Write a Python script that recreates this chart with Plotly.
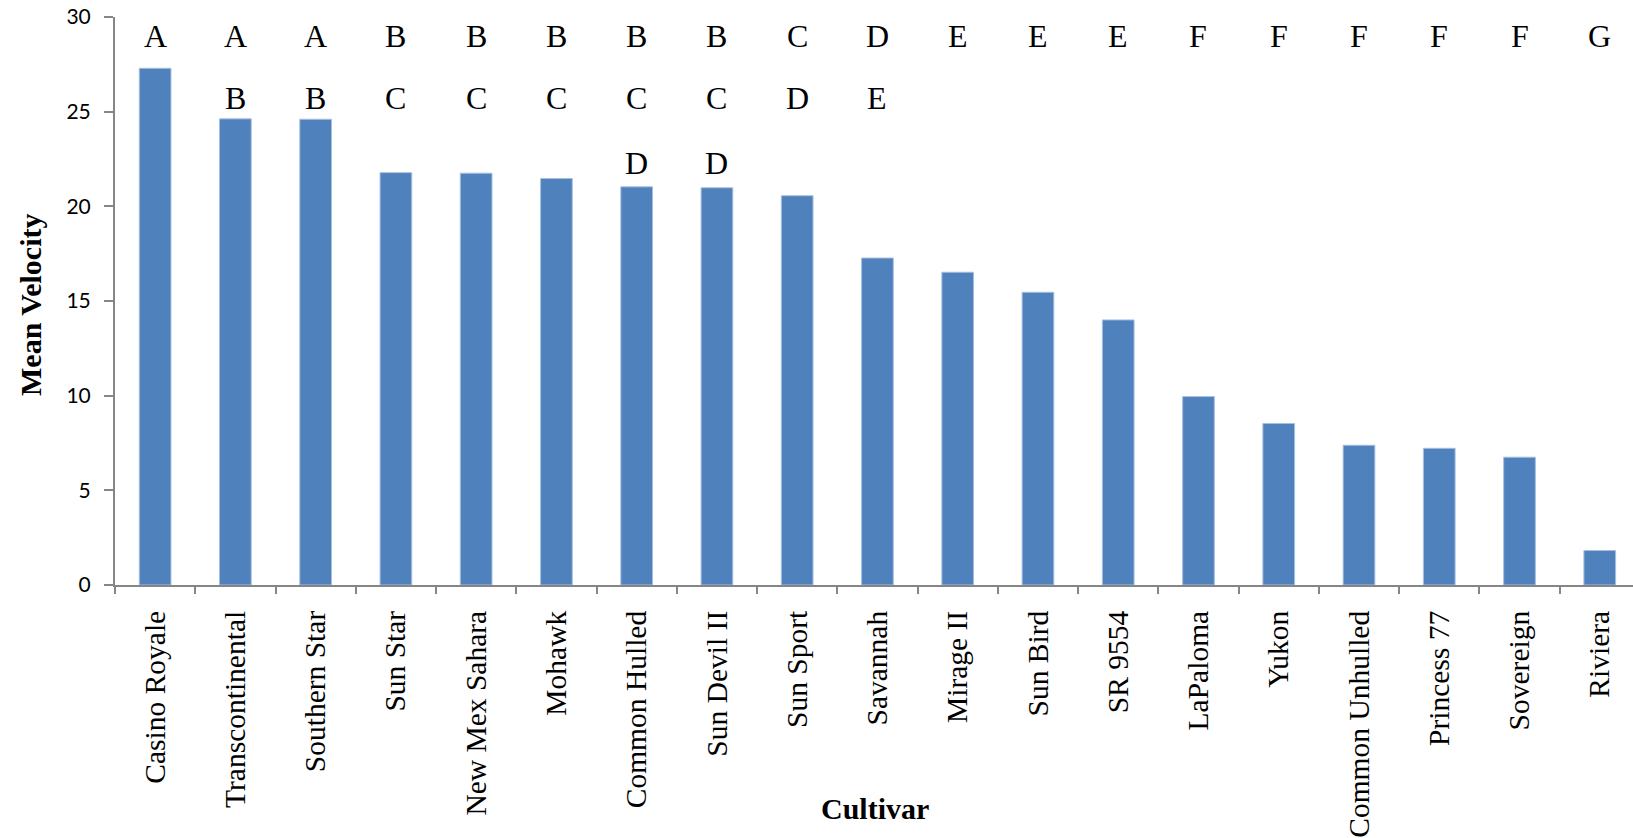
import plotly.graph_objects as go

cultivars = ["Casino Royale", "Transcontinental", "Southern Star", "Sun Star", "New Mex Sahara",
             "Mohawk", "Common Hulled", "Sun Devil II", "Sun Sport", "Savannah", "Mirage II",
             "Sun Bird", "SR 9554", "LaPaloma", "Yukon", "Common Unhulled", "Princess 77",
             "Sovereign", "Riviera"]
mean_velocity = [27.29, 24.62, 24.60, 21.78, 21.75, 21.47, 21.03, 20.98, 20.56, 17.27, 16.52,
                 15.46, 14.00, 9.95, 8.53, 7.38, 7.22, 6.75, 1.82]
letters_row1 = ["A", "A", "A", "B", "B", "B", "B", "B", "C", "D", "E", "E", "E", "F", "F", "F", "F", "F", "G"]
letters_row2 = ["", "B", "B", "C", "C", "C", "C", "C", "D", "E", "", "", "", "", "", "", "", "", ""]
letters_row3 = ["", "", "", "", "", "", "D", "D", "", "", "", "", "", "", "", "", "", "", ""]
row_levels = [29.0, 25.7, 22.3]
y_ticks = [0, 5, 10, 15, 20, 25, 30]

serif = "Liberation Serif, Times New Roman, serif"
axis_gray = "#868686"

fig = go.Figure()
fig.add_trace(go.Bar(
    x=cultivars, y=mean_velocity, width=0.395,
    marker=dict(color="#4F81BD", line=dict(color="#A7BFDE", width=1)),
    showlegend=False,
))

annotations = []
for row, level in zip([letters_row1, letters_row2, letters_row3], row_levels):
    for c, t in zip(cultivars, row):
        if t:
            annotations.append(dict(x=c, y=level, xref="x", yref="y", text=t, showarrow=False,
                                    xanchor="center", yanchor="middle",
                                    font=dict(family=serif, size=32, color="black")))

annotations.append(dict(text="<b>Mean Velocity</b>", xref="paper", yref="paper", x=0, y=0.5,
                        xshift=-85, yshift=-4, textangle=-90, showarrow=False,
                        xanchor="center", yanchor="middle",
                        font=dict(family=serif, size=30, color="black")))
annotations.append(dict(text="<b>Cultivar</b>", xref="paper", yref="paper", x=0.5, y=0,
                        xshift=1, yshift=-223, showarrow=False, xanchor="center", yanchor="middle",
                        font=dict(family=serif, size=30, color="black")))

fig.update_layout(
    width=1633, height=838,
    margin=dict(l=115, r=0, t=17, b=251),
    plot_bgcolor="white", paper_bgcolor="white",
    annotations=annotations,
    xaxis=dict(
        range=[-0.5, 18.414], tickangle=-90, tickson="boundaries",
        ticks="outside", ticklen=7, tickwidth=2, tickcolor=axis_gray,
        showline=True, linecolor=axis_gray, linewidth=2, showgrid=False,
        tickfont=dict(family=serif, size=29.5, color="black"), ticklabelstandoff=12,
    ),
    yaxis=dict(
        range=[0, 30], tickvals=y_ticks, ticks="outside", ticklen=9, tickwidth=2,
        tickcolor=axis_gray, showline=True, linecolor=axis_gray, linewidth=2,
        showgrid=False, zeroline=False,
        tickfont=dict(family="Lato, Calibri, sans-serif", size=21, color="black"),
        ticklabelstandoff=9,
    ),
)

fig.write_html("out.html", config={"displayModeBar": False},
               post_script="document.body.style.margin='0px';")
